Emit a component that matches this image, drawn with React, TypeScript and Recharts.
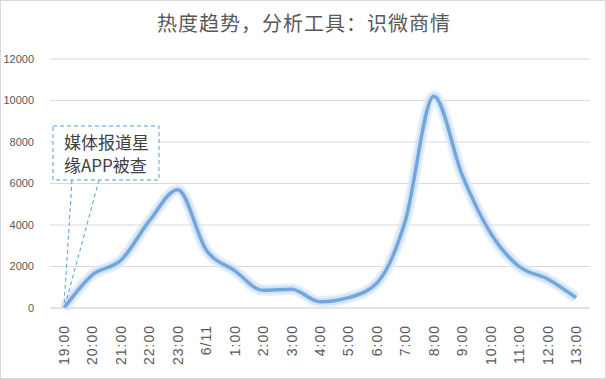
import React from 'react';
import { LineChart, Line, XAxis, YAxis, CartesianGrid, ReferenceDot } from 'recharts';

const categories = ['19:00', '20:00', '21:00', '22:00', '23:00', '6/11', '1:00', '2:00', '3:00', '4:00', '5:00', '6:00', '7:00', '8:00', '9:00', '10:00', '11:00', '12:00', '13:00'];
const heatValues = [0, 1600, 2300, 4200, 5700, 2800, 1800, 850, 900, 300, 500, 1200, 4200, 10200, 6400, 3600, 2000, 1400, 500];
const yTicks = [0, 2000, 4000, 6000, 8000, 10000, 12000];
const titleText = '热度趋势，分析工具：识微商情';
const noteLines = ['媒体报道星', '缘APP被查'];

const data = categories.map((c, i) => ({ cat: c, v: heatValues[i] }));

const XTick = (props: any) => {
  const { x, y, payload } = props;
  return (
    <text
      x={0}
      y={0}
      transform={`translate(${x + 5},${y + 9}) rotate(-90)`}
      textAnchor="end"
      fill="#595959"
      fontSize={14}
      letterSpacing={1}
      fontFamily="'Liberation Sans', 'Noto Sans CJK SC', sans-serif"
    >
      {payload.value}
    </text>
  );
};

const Callout = (props: any) => {
  const { cx, cy } = props;
  if (cx == null || cy == null) return null;
  const left = cx - 11;
  const top = cy - 182;
  const w = 106;
  const h = 54;
  return (
    <g>
      <line x1={cx + 8} y1={top + h} x2={cx} y2={cy - 2} stroke="#5b9bd5" strokeDasharray="4 3" strokeWidth={1} />
      <line x1={cx + 35} y1={top + h} x2={cx + 1} y2={cy - 2} stroke="#5b9bd5" strokeDasharray="4 3" strokeWidth={1} />
      <rect x={left} y={top} width={w} height={h} fill="#ffffff" stroke="#5b9bd5" strokeDasharray="4 3" strokeWidth={1} />
      {noteLines.map((t, i) => (
        <text key={i} x={left + 11} y={top + 23 + i * 23} fontSize={17} fill="#404040" fontFamily="'Noto Sans CJK SC', sans-serif">
          {t}
        </text>
      ))}
    </g>
  );
};

export default function App() {
  return (
    <div style={{ position: 'absolute', left: 0, top: 0, width: 606, height: 379, background: '#fff', boxSizing: 'border-box', border: '1px solid #d9d9d9' }}>
      <div
        style={{
          position: 'absolute',
          left: 0,
          top: 7,
          width: 606,
          textAlign: 'center',
          fontSize: 20,
          color: '#595959',
          fontFamily: "'Noto Sans CJK SC', sans-serif",
          letterSpacing: 1,
        }}
      >
        {titleText}
      </div>
      <div style={{ position: 'absolute', left: -1, top: -1 }}>
        <LineChart width={606} height={379} data={data} margin={{ top: 59, right: 16, left: 0, bottom: 11 }}>
          <CartesianGrid horizontal vertical={false} stroke="#d9d9d9" />
          <XAxis
            dataKey="cat"
            interval={0}
            tick={<XTick />}
            tickLine={false}
            axisLine={{ stroke: '#d9d9d9' }}
            height={60}
            padding={{ left: 14, right: 14 }}
          />
          <YAxis
            width={50}
            domain={[0, 12000]}
            ticks={yTicks}
            tickLine={false}
            axisLine={false}
            tick={{ fill: '#595959', fontSize: 11, fontFamily: "'Liberation Sans', sans-serif" }}
            tickMargin={10}
          />
          <Line type="monotone" dataKey="v" stroke="#dde9f7" strokeOpacity={0.6} strokeWidth={12} dot={false} isAnimationActive={false} />
          <Line type="monotone" dataKey="v" stroke="#c6dbf1" strokeOpacity={0.6} strokeWidth={8} dot={false} isAnimationActive={false} />
          <Line type="monotone" dataKey="v" stroke="#72a7de" strokeWidth={3.5} dot={false} isAnimationActive={false} />
          <ReferenceDot x={categories[0]} y={heatValues[0]} r={0} shape={<Callout />} />
        </LineChart>
      </div>
    </div>
  );
}
